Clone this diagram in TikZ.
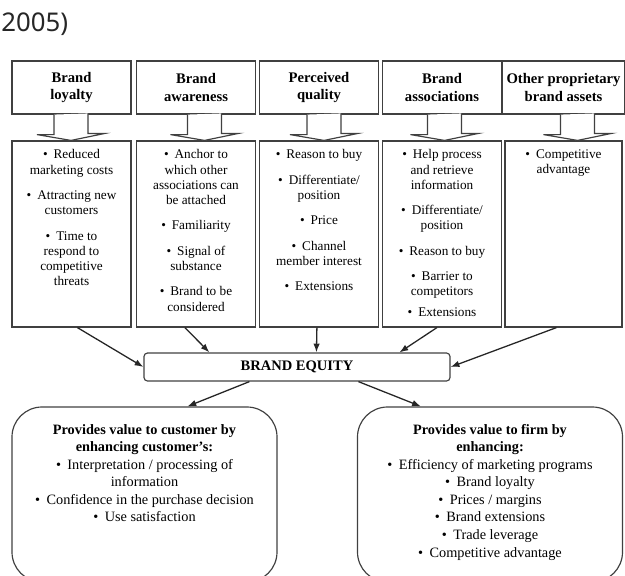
\documentclass[tikz,border=0pt]{standalone}
\usepackage{fontspec}
\setmainfont{Liberation Serif}
\newfontfamily\yearfont{Noto Sans}
\usepackage{xcolor}
\usetikzlibrary{arrows.meta}
\usetikzlibrary{calc}
\usetikzlibrary{positioning}
\newcommand{\pxu}{0.03cm}
\newcommand{\dotitem}{\textbullet\hspace{.45em}}

\begin{document}
\begin{tikzpicture}[-,>={Latex[length=7.5pt,width=5.5pt]},x=\pxu,y=-\pxu,semithick]
  \tikzstyle{hdr}=[draw=black!75, line width=1pt, minimum width=3.57cm, minimum height=1.59cm,
                   align=center, font=\fontsize{12.5}{15}\selectfont\bfseries]
  \tikzstyle{cont}=[draw=black!75, line width=1pt, minimum width=3.57cm, minimum height=5.58cm]
  \tikzstyle{items}=[inner sep=0pt, align=center, font=\fontsize{11.3}{13}\selectfont]
  \tikzstyle{val}=[draw=black!75, line width=1pt, rounded corners=0.9cm, minimum width=7.95cm,
                   minimum height=5.25cm]
  \tikzstyle{valtext}=[inner sep=0pt, align=center, font=\fontsize{12.2}{14.95}\selectfont]
  \tikzstyle{blockarr}=[draw=black!75, line width=1pt, fill=white]
  \tikzstyle{link}=[->, black!85, line width=1.1pt]
  \clip (0,0) rectangle (625,575);

  \node[anchor=west, inner sep=0pt, text=black!85, font=\yearfont\fontsize{22}{24}\selectfont] (yr) at (1,24) {2005)};

  % top row
  \node[hdr] (h1) at (71.5,87.5) {Brand\\loyalty};
  \node[hdr] (h2) at (196,87.5)  {Brand\\awareness};
  \node[hdr] (h3) at (319,87.5)  {Perceived\\quality};
  \node[hdr] (h4) at (442,87.5)  {Brand\\associations};
  \node[hdr, minimum width=3.51cm] (h5) at (563.5,87.5) {Other proprietary\\brand assets};

  \node[cont] (c1) at (71.5,234) {};
  \node[cont] (c2) at (196,234)  {};
  \node[cont] (c3) at (319,234)  {};
  \node[cont] (c4) at (442,234)  {};
  \node[cont, minimum width=3.51cm] (c5) at (563.5,234) {};

  \foreach \n/\dx in {1/-0.5,2/8.5,3/5,4/2.5,5/14}
    \draw[blockarr] ($(h\n.south)+(\dx-17,0)$) -- ++(0,20) -- ++(-17,0)
      -- ($(c\n.north)+(\dx,0)$) -- ++(34,-7) -- ++(-17,0) -- ++(0,-20);

  \node[items, below=7.7pt of c1.north] (t1) {\dotitem Reduced\\marketing costs\\[8.6pt]
    \dotitem Attracting new\\customers\\[8.6pt]
    \dotitem Time to\\respond to\\competitive\\threats};
  \node[items, below=7.7pt of c2.north] (t2) {\dotitem Anchor to\\which other\\associations can\\be attached\\[8.6pt]
    \dotitem Familiarity\\[8.6pt]
    \dotitem Signal of\\substance\\[8.6pt]
    \dotitem Brand to be\\considered};
  \node[items, below=7.7pt of c3.north] (t3) {\dotitem Reason to buy\\[8.6pt]
    \dotitem Differentiate/\\position\\[8.6pt]
    \dotitem Price\\[8.6pt]
    \dotitem Channel\\member interest\\[8.6pt]
    \dotitem Extensions};
  \node[items, below=7.7pt of c4.north] (t4) {\dotitem Help process\\and retrieve\\information\\[8.6pt]
    \dotitem Differentiate/\\position\\[8.6pt]
    \dotitem Reason to buy\\[8.6pt]
    \dotitem Barrier to\\competitors\\[5pt]
    \dotitem Extensions};
  \node[items, below=7.7pt of c5.north] (t5) {\dotitem Competitive\\advantage};

  % brand equity
  \node[draw=black!75, line width=1pt, rounded corners=3pt, minimum width=9.18cm, minimum height=0.84cm,
        font=\fontsize{12.4}{14}\selectfont\bfseries] (eq) at (297,367) {BRAND EQUITY};

  \draw[link] ($(c1.south west)+(66,0)$) -- (eq.west);
  \draw[link] ($(c2.south west)+(49,0)$) -- ($(eq.north west)+(66,0)$);
  \draw[link] ($(c3.south west)+(58,0)$) -- ($(eq.north west)+(173,0)$);
  \draw[link] ($(c4.south west)+(55,0)$) -- ($(eq.north west)+(256,0)$);
  \draw[link] ($(c5.south west)+(52,0)$) -- (eq.east);

  % value boxes
  \node[val] (lv) at (144.5,494.5) {};
  \node[val] (rv) at (490,494.5) {};
  \node[valtext, below=15pt of lv.north] (lt) {\textbf{Provides value to customer by}\\
    \textbf{enhancing customer's:}\\
    \dotitem Interpretation / processing of\\information\\
    \dotitem Confidence in the purchase decision\\
    \dotitem Use satisfaction};
  \node[valtext, below=15pt of rv.north] (rt) {\textbf{Provides value to firm by}\\
    \textbf{enhancing:}\\
    \dotitem Efficiency of marketing programs\\
    \dotitem Brand loyalty\\
    \dotitem Prices / margins\\
    \dotitem Brand extensions\\
    \dotitem Trade leverage\\
    \dotitem Competitive advantage};

  \draw[link] ($(eq.south west)+(106,0)$) -- ($(lv.north west)+(176,0)$);
  \draw[link] ($(eq.south west)+(215,0)$) -- ($(rv.north west)+(64,0)$);
\end{tikzpicture}
\end{document}
